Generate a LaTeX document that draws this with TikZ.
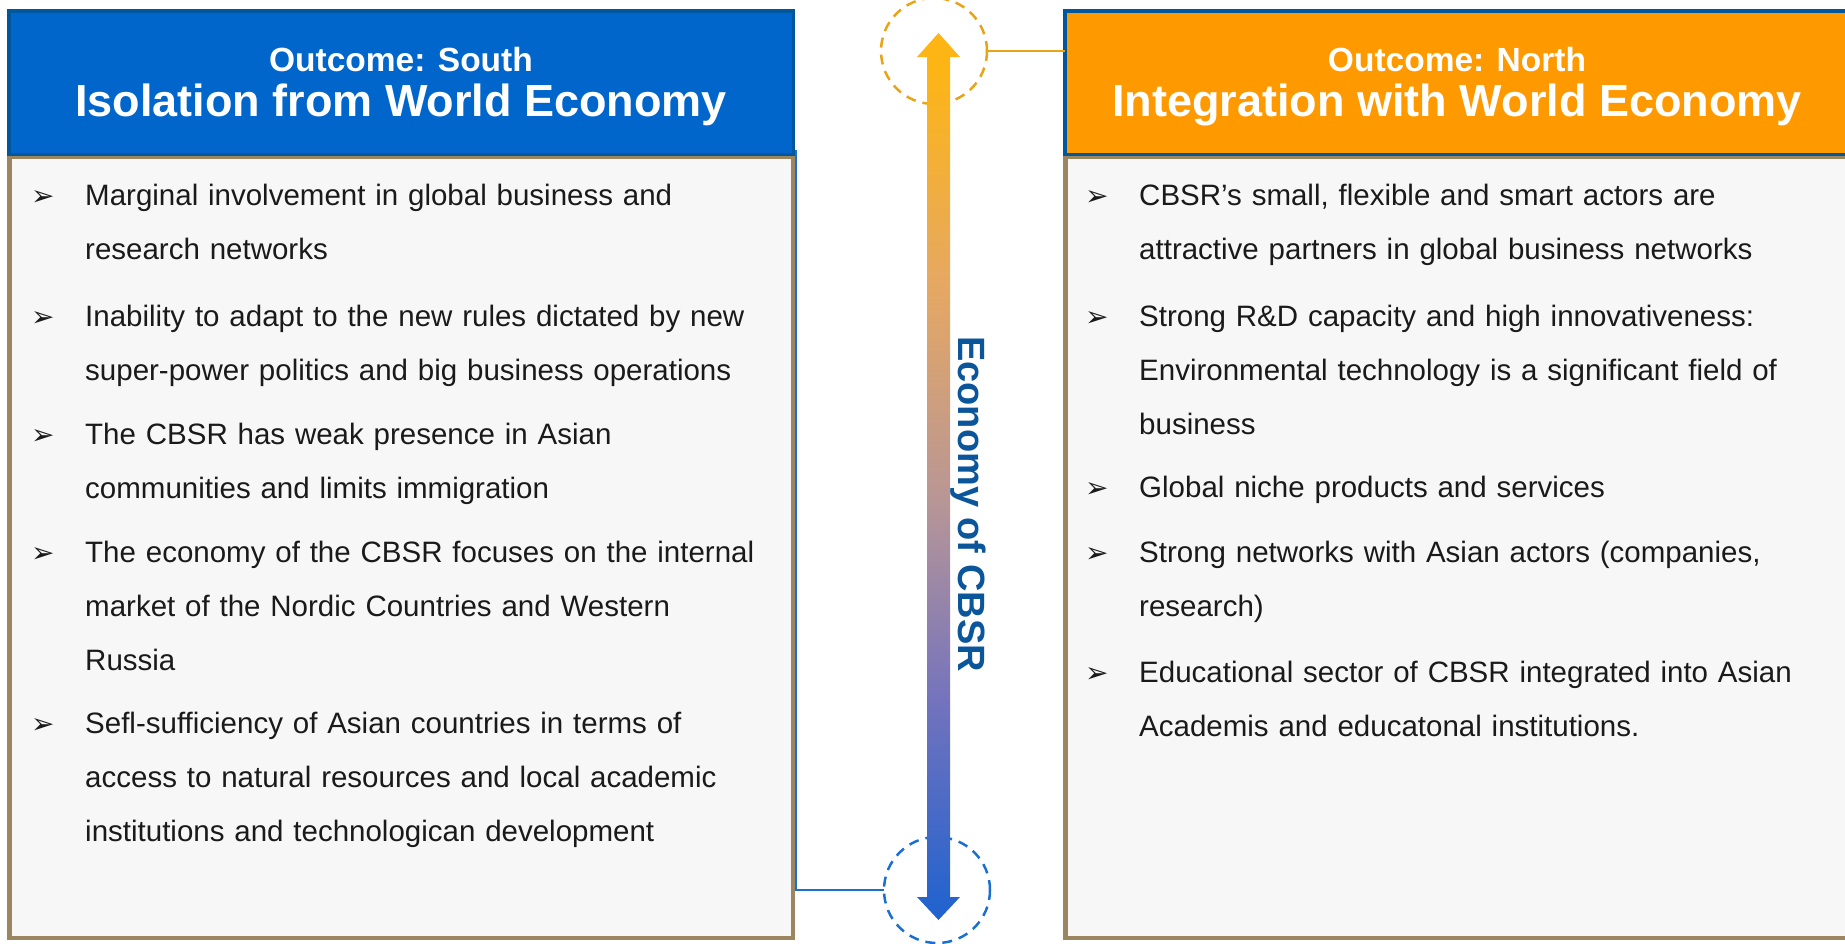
\documentclass[tikz,border=0pt]{standalone}
\usepackage{fontspec}
\setmainfont{Liberation Sans}
\newfontfamily\dejavu{DejaVu Sans}
\definecolor{hdrBlue}{HTML}{0066CC}
\definecolor{hdrOrange}{HTML}{FF9900}
\definecolor{hdrBorder}{HTML}{00579B}
\definecolor{bodyFill}{HTML}{F7F7F7}
\definecolor{bodyBorder}{HTML}{9C8660}
\definecolor{textDark}{HTML}{1A1A1A}
\definecolor{axisBlue}{HTML}{0B559B}
\definecolor{connOrange}{HTML}{E8A317}
\definecolor{connBlue}{HTML}{1A6FD0}
\definecolor{arrA}{HTML}{FDB515}
\definecolor{arrB}{HTML}{E6A862}
\definecolor{arrC}{HTML}{B89696}
\definecolor{arrD}{HTML}{7473BD}
\definecolor{arrE}{HTML}{1E62CF}
\pgfdeclareverticalshading{arrowshade}{100bp}{%
  color(0bp)=(arrE); color(25bp)=(arrE); color(37.4bp)=(arrD);
  color(48.6bp)=(arrC); color(61bp)=(arrB); color(73bp)=(arrA); color(100bp)=(arrA)}
\tikzset{
  hdrbox/.style={draw=hdrBorder, line width=3.5pt, inner sep=0pt, outer sep=0pt, anchor=north west},
  bodybox/.style={draw=bodyBorder, fill=bodyFill, line width=4.5pt, inner sep=0pt, outer sep=0pt, anchor=north west},
  hdrsmall/.style={text=white, font=\fontsize{33.5}{40}\selectfont\bfseries, anchor=base, inner sep=0pt},
  hdrbig/.style={text=white, font=\fontsize{45}{54}\selectfont\bfseries, anchor=base, inner sep=0pt},
  bodytext/.style={text=textDark, font=\fontsize{29.5}{54}\selectfont, anchor=base west, text width=720pt, align=left, inner sep=0pt},
  bul/.style={text=textDark, font=\dejavu\fontsize{28}{30}\selectfont, anchor=base west, inner sep=0pt},
  ring/.style={circle, minimum size=106pt, inner sep=0pt, outer sep=0pt, line width=2.5pt, dash pattern=on 10pt off 7pt},
  conn/.style={line width=2.5pt}
}
\begin{document}
\begin{tikzpicture}[x=1pt,y=-1pt]
\useasboundingbox (0,0) rectangle (1845,943);
\clip (0,0) rectangle (1845,943);

% circles
\node[ring, draw=connOrange] (ctop) at (934,51) {};
\node[ring, draw=connBlue] (cbot) at (937,890) {};
\coordinate (lcorner) at (795.5,150);

% bottom connector (partly hidden by the left box)
\draw[conn, draw=connBlue] (cbot.west) -| (lcorner);

% left box
\node[bodybox, minimum width=783.5pt, minimum height=780.75pt] (lbody) at (9.25,157) {};
\node[hdrbox, fill=hdrBlue, minimum width=784.5pt, minimum height=143.5pt] (lhead) at (8.75,10.75) {};
% right box
\node[bodybox, minimum width=786.75pt, minimum height=780.75pt] (rbody) at (1065.25,157) {};
\node[hdrbox, fill=hdrOrange, minimum width=787.25pt, minimum height=143.5pt] (rhead) at (1064.75,10.75) {};

% top connector
\draw[conn, draw=connOrange] (ctop.east) -- (ctop.east -| rhead.west);

% header texts
\node[hdrsmall] (lt1) at (401,71) {Outcome: South};
\node[hdrbig] (lt2) at (401,116) {Isolation from World Economy};
\node[hdrsmall] (rt1) at (1457,71) {Outcome: North};
\node[hdrbig] (rt2) at (1457,116) {Integration with World Economy};

% arrow
\shade[shading=arrowshade]
  (938.5,33) -- (960,57) -- (950,57) -- (950,897) -- (960,897) -- (938.5,920)
  -- (917,897) -- (927,897) -- (927,57) -- (917,57) -- cycle;
\node[rotate=-90, anchor=base, inner sep=0pt, text=axisBlue, font=\fontsize{38}{40}\selectfont\bfseries] (axis) at (958,504) {Economy of CBSR};

% left bullets
\node[bul] (lb1) at (31,205.5) {➢};
\node[bodytext] (l1) at (85,205.5) {Marginal involvement in global business and\\research networks};
\node[bul] (lb2) at (31,326.7) {➢};
\node[bodytext] (l2) at (85,326.7) {Inability to adapt to the new rules dictated by new\\super-power politics and big business operations};
\node[bul] (lb3) at (31,444.4) {➢};
\node[bodytext] (l3) at (85,444.4) {The CBSR has weak presence in Asian\\communities and limits immigration};
\node[bul] (lb4) at (31,562) {➢};
\node[bodytext] (l4) at (85,562) {The economy of the CBSR focuses on the internal\\market of the Nordic Countries and Western\\Russia};
\node[bul] (lb5) at (31,733.8) {➢};
\node[bodytext] (l5) at (85,733.8) {Sefl-sufficiency of Asian countries in terms of\\access to natural resources and local academic\\institutions and technologican development};

% right bullets
\node[bul] (rb1) at (1085,205.5) {➢};
\node[bodytext] (r1) at (1139,205.5) {CBSR’s small, flexible and smart actors are\\attractive partners in global business networks};
\node[bul] (rb2) at (1085,326.7) {➢};
\node[bodytext] (r2) at (1139,326.7) {Strong R\&D capacity and high innovativeness:\\Environmental technology is a significant field of\\business};
\node[bul] (rb3) at (1085,497.3) {➢};
\node[bodytext] (r3) at (1139,497.3) {Global niche products and services};
\node[bul] (rb4) at (1085,562) {➢};
\node[bodytext] (r4) at (1139,562) {Strong networks with Asian actors (companies,\\research)};
\node[bul] (rb5) at (1085,682) {➢};
\node[bodytext] (r5) at (1139,682) {Educational sector of CBSR integrated into Asian\\Academis and educatonal institutions.};
\end{tikzpicture}
\end{document}
